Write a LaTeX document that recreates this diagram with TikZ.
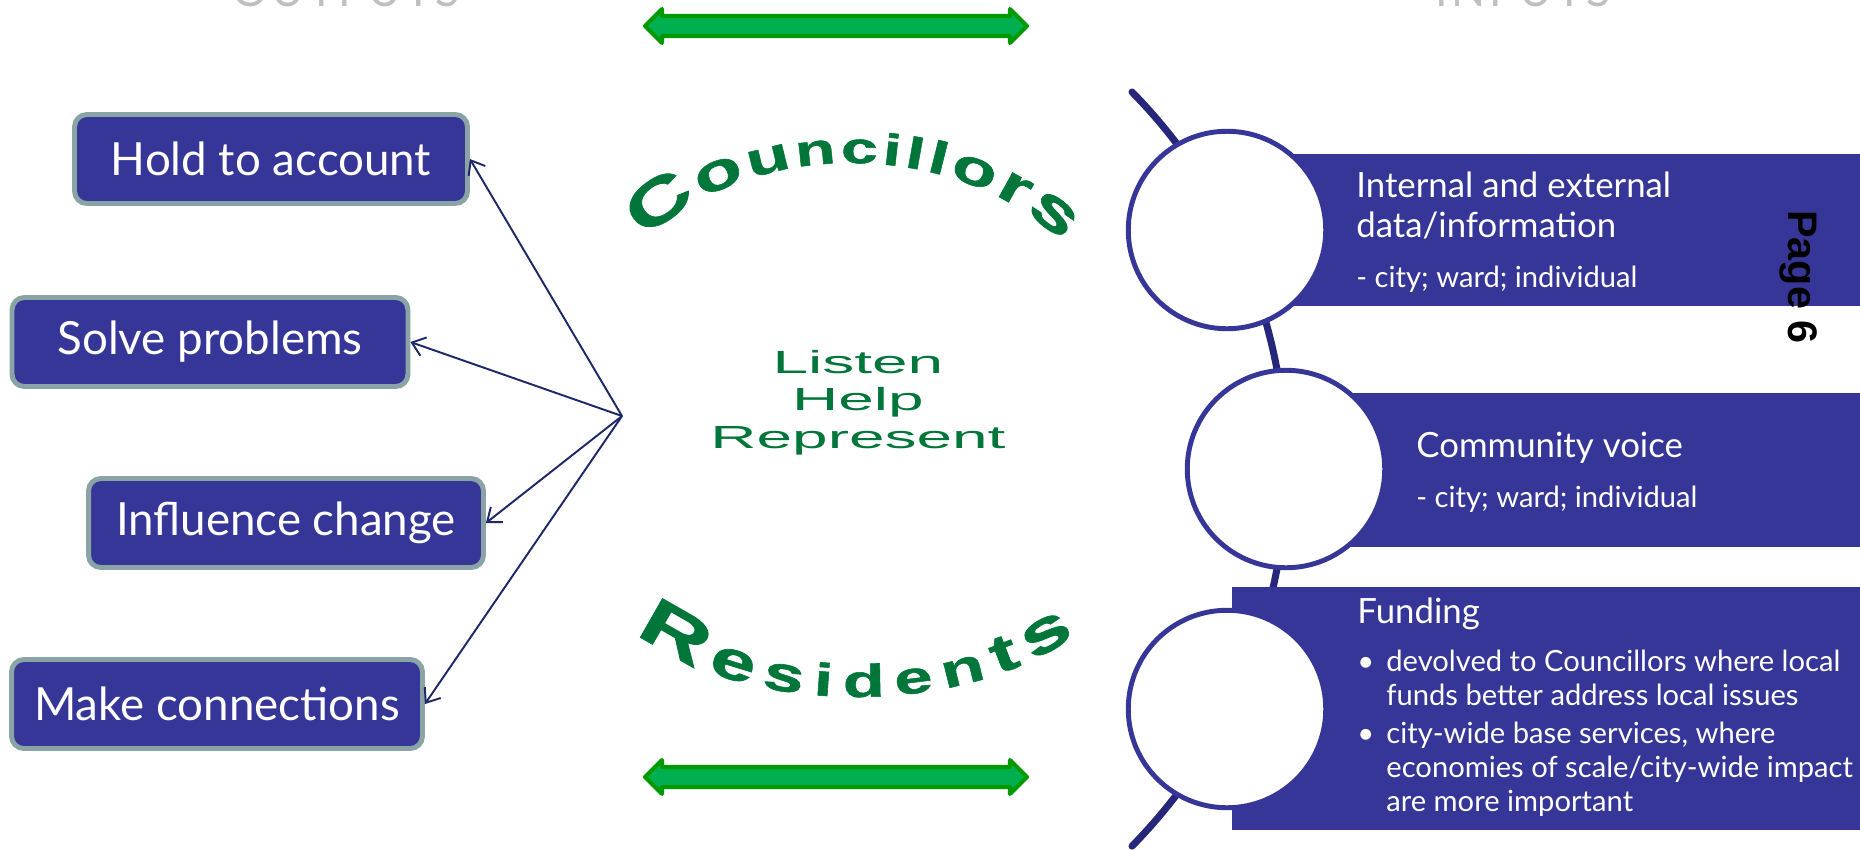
\documentclass[tikz,border=0pt]{standalone}
\usepackage{fontspec}
\setmainfont{Lato}
\newfontfamily\archfont[FakeStretch=1.5, FakeBold=1.2]{Liberation Sans}
\newfontfamily\widefont[FakeStretch=2.0]{Liberation Sans}
\newfontfamily\pagefont{Liberation Sans}
\newfontfamily\capsfont[LetterSpace=8]{Lato}
\usetikzlibrary{arrows.meta, positioning, calc, decorations.text}

\definecolor{boxblue}{RGB}{54,54,152}
\definecolor{boxrim}{RGB}{138,164,166}
\definecolor{spineblue}{RGB}{38,38,122}
\definecolor{linknavy}{RGB}{28,40,104}
\definecolor{wordgreen}{RGB}{0,118,58}
\definecolor{barfill}{RGB}{0,176,80}
\definecolor{barrim}{RGB}{0,154,0}
\definecolor{headgray}{RGB}{191,191,191}

% letter size for the arched words
\newcommand\wordart[1]{\archfont\bfseries\fontsize{#1}{#1}\selectfont}

\begin{document}
\begin{tikzpicture}[
    x=0.02cm, y=-0.02cm,
    outbox/.style={rectangle, draw=boxrim, fill=boxblue, line width=2.8pt, rounded corners=7pt, minimum height=1.78cm, text=white, font=\fontsize{26}{30}\selectfont},
    fanarrow/.style={-{Straight Barb[length=7pt, width=11pt]}, draw=linknavy, line width=1.1pt},
    ring/.style={circle, draw=boxblue, fill=white, line width=2.8pt, minimum size=3.95cm, inner sep=0pt},
    band/.style={fill=boxblue},
    spine/.style={draw=spineblue, line width=4pt, line cap=round},
    intitle/.style={anchor=base west, align=left, inner sep=0pt, text=white, font=\fontsize{19.8}{22.7}\selectfont},
    insub/.style={anchor=base west, align=left, inner sep=0pt, text=white, font=\fontsize{16.6}{19.3}\selectfont},
    greenbar/.style={draw=barrim, fill=barfill, line width=2.3pt, line join=round},
    headword/.style={anchor=base, inner sep=0pt, text=headgray, font=\capsfont\fontsize{25.5}{30}\selectfont}
]
\clip (0,0) rectangle (1860,850);

% ---------- headings (cut by the top edge) ----------
\node[headword] (outhead) at (346,6) {OUTPUTS};
\node[headword] (inhead) at (1523,6) {INPUTS};

% ---------- outputs ----------
\node[outbox, minimum width=7.86cm] (hold) at (271,159) {Hold to account};
\node[outbox, minimum width=7.92cm] (solve) at (210,342) {Solve problems};
\node[outbox, minimum width=7.90cm] (influence) at (286,523) {Influence change};
\node[outbox, minimum width=8.22cm] (connect) at (217,704) {Make connections};

\coordinate (hub) at (622,416);
\foreach \dest in {hold, solve, influence, connect}
    \draw[fanarrow] (hub) -- (\dest.east);

% ---------- middle ----------
\foreach \ay in {26,777}
    \draw[greenbar] (645,\ay) -- (662,\ay-17) -- (662,\ay-10) -- (1010,\ay-10) -- (1010,\ay-17)
        -- (1027,\ay) -- (1010,\ay+17) -- (1010,\ay+10) -- (662,\ay+10) -- (662,\ay+17) -- cycle;

\path[decorate, decoration={text along path, text align=fit to path, text color=wordgreen,
    text={|\wordart{35}|C|\wordart{30}|o|\wordart{27}|u|\wordart{25}|n|\wordart{25}|c|\wordart{25}|i|\wordart{25}|l|\wordart{26}|l|\wordart{28}|o|\wordart{30}|r|\wordart{33}|s}}]
    (645,240) .. controls (750,137) and (955,137) .. (1062,242);

% baseline of the last line
\node[font=\widefont\fontsize{18.2}{21.3}\selectfont, text=wordgreen, align=center, anchor=base, inner sep=0pt] (roles) at (858,448) {Listen\\Help\\Represent};

\path[decorate, decoration={text along path, text align=fit to path, text color=wordgreen,
    text={|\wordart{37}|R|\wordart{31}|e|\wordart{28}|s|\wordart{26}|i|\wordart{26}|d|\wordart{26}|e|\wordart{27}|n|\wordart{30}|t|\wordart{34}|s}}]
    (636,632) .. controls (745,718) and (962,718) .. (1075,635);

% ---------- inputs ----------
\draw[spine] (1132,92) arc[start angle=-44.5, end angle=44.5, radius=538];

\fill[band] (1227,154) rectangle (1860,306);
\fill[band] (1286,393) rectangle (1860,547);
\fill[band] (1232,587) rectangle (1860,830);

\node[ring] (ring1) at (1227,230) {};
\node[ring] (ring2) at (1286,469) {};
\node[ring] (ring3) at (1227,709) {};

% multi-line nodes sit on their last line
\node[intitle] (datatitle) at (1356,237) {Internal and external\\data/information};
\node[insub] (datasub) at (1356,287) {- city; ward; individual};

\node[intitle] (voicetitle) at (1416,457) {Community voice};
\node[insub] (voicesub) at (1416,507) {- city; ward; individual};

\node[intitle] (fundtitle) at (1357,623) {Funding};
\node[insub] (dot1) at (1357,671) {\textbullet};
\node[insub] (fund1) at (1386,705) {devolved to Councillors where local\\funds better address local issues};
\node[insub] (dot2) at (1357,743) {\textbullet};
\node[insub] (fund2) at (1386,811) {city-wide base services, where\\economies of scale/city-wide impact\\are more important};

\node[rotate=-90, anchor=base, inner sep=0pt, font=\pagefont\bfseries\fontsize{23.5}{24}\selectfont] (pagemark) at (1788,277) {Page 6};

\end{tikzpicture}
\end{document}
